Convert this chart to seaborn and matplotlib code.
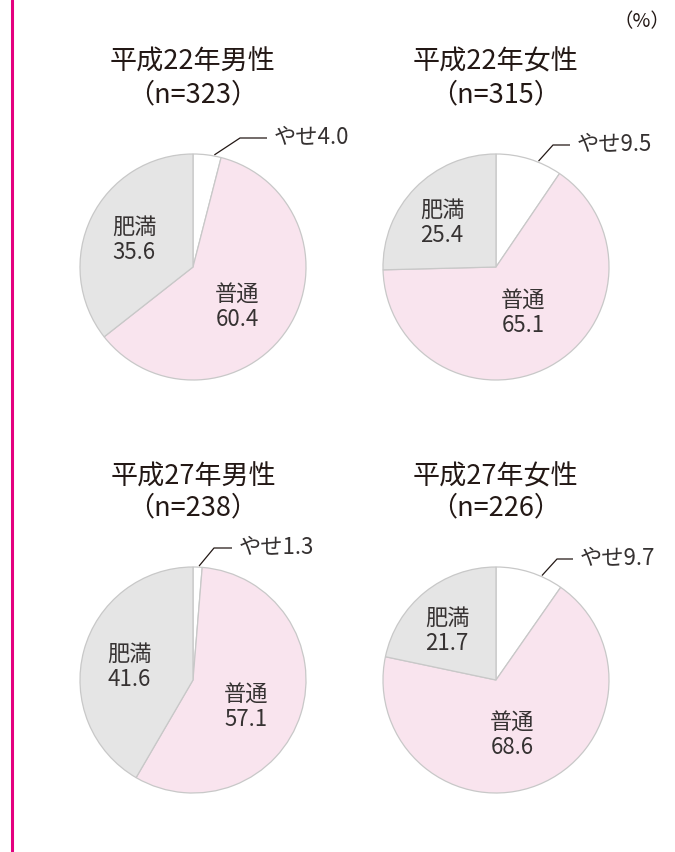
import numpy as np
import matplotlib
matplotlib.use("Agg")
import matplotlib.pyplot as plt
import seaborn as sns

# ---- data ----
titles = ["平成22年男性", "平成22年女性", "平成27年男性", "平成27年女性"]
n_values = [323, 315, 238, 226]
categories = ["やせ", "普通", "肥満"]
yase = [4.0, 9.5, 1.3, 9.7]
futsu = [60.4, 65.1, 57.1, 68.6]
himan = [35.6, 25.4, 41.6, 21.7]
unit_label = "（%）"

# ---- layout (pixel coordinates, y downward) ----
W, H = 675, 852
centers = [(193, 267), (496, 267), (193, 680), (496, 680)]
radius = 113
title_y = [(62, 95), (62, 95), (477, 508), (477, 508)]
himan_off = [(-59, -27), (-54, -44), (-64, -13), (-49, -49)]
futsu_off = [(44, 40), (27, 46), (53, 27), (16, 55)]
# elbow (dx, dy) and horizontal end dx relative to center
yase_line = [((47, -129), 74), ((57, -122), 74), ((21, -132), 39), ((61, -121), 77)]
yase_frac = [0.75, 0.64, 0.65, 0.68]

colors = ["#ffffff", "#f9e4ee", "#e5e5e5"]
edge = "#c8c8c8"
txt = "#363232"
title_c = "#231815"

sns.set_theme(style="white")
plt.rcParams['font.family'] = ['Noto Sans CJK JP', 'DejaVu Sans']

fig = plt.figure(figsize=(W / 100, H / 100), dpi=100)
ax = fig.add_axes([0, 0, 1, 1])
ax.set_xlim(0, W)
ax.set_ylim(H, 0)
ax.axis("off")

ax.axvline(12, color="#e4007f", lw=2.2)
ax.text(642, 22, unit_label, ha="center", va="center", fontsize=14, color=title_c)

for i in range(4):
    cx, cy = centers[i]
    vals = [yase[i], futsu[i], himan[i]]
    wedges, _ = ax.pie(vals, colors=colors, center=(cx, cy), radius=radius,
                       startangle=-90, counterclock=True, frame=True,
                       wedgeprops=dict(edgecolor=edge, linewidth=0.9))
    # titles
    ax.text(cx, title_y[i][0], titles[i], ha="center", va="center",
            fontsize=19.5, color=title_c)
    ax.text(cx, title_y[i][1], f"（n={n_values[i]}）", ha="center", va="center",
            fontsize=19.5, color=title_c)
    # inside labels
    ax.text(cx + himan_off[i][0], cy + himan_off[i][1],
            f"{categories[2]}\n{himan[i]:.1f}", ha="center", va="center",
            fontsize=16, color=txt, linespacing=1.12)
    ax.text(cx + futsu_off[i][0], cy + futsu_off[i][1],
            f"{categories[1]}\n{futsu[i]:.1f}", ha="center", va="center",
            fontsize=16, color=txt, linespacing=1.12)
    # やせ leader line
    w0 = wedges[0]
    ang = np.deg2rad(w0.theta1 + yase_frac[i] * (w0.theta2 - w0.theta1))
    ex, ey = cx + radius * 1.01 * np.cos(ang), cy + radius * 1.01 * np.sin(ang)
    (bx, by), endx = yase_line[i]
    ax.plot([ex, cx + bx, cx + endx], [ey, cy + by, cy + by],
            color="#231815", lw=0.9, solid_capstyle="butt")
    ax.text(cx + endx + 7, cy + by, f"{categories[0]}{yase[i]:.1f}",
            ha="left", va="center", fontsize=16, color=txt)

ax.set_xlim(0, W)
ax.set_ylim(H, 0)
ax.set_aspect("equal")
fig.savefig("out.png", dpi=100)
